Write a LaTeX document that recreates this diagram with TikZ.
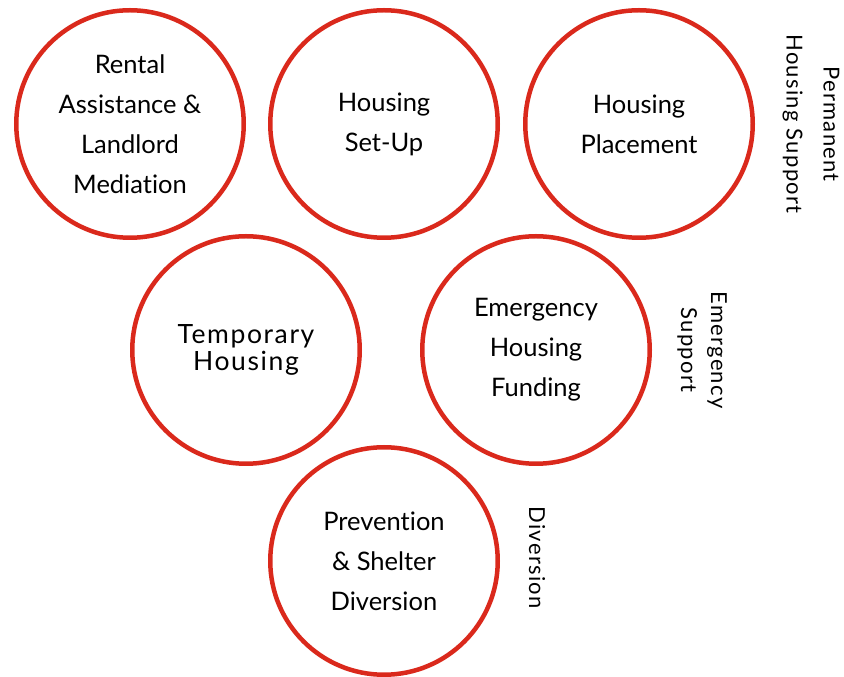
\documentclass[tikz,border=0pt]{standalone}
\usepackage{fontspec}
\setmainfont[Ligatures=NoCommon]{Lato}
\newfontfamily\widefont[LetterSpace=6,Ligatures=NoCommon]{Lato}
\usetikzlibrary{positioning}
\definecolor{ringred}{RGB}{218,41,28}

\begin{document}
\begin{tikzpicture}[x=1pt, y=1pt,
    ring/.style={circle, draw=ringred, line width=4.5pt, minimum size=227.5pt, inner sep=0pt, align=center, font=\fontsize{25.5}{40}\selectfont},
    band/.style={rotate=-90, align=center, font=\widefont\fontsize{22}{#1}\selectfont}, on grid
    ]
		\useasboundingbox (0,0) rectangle (844,677);

		\node[ring](Rent) at (130,553) {
			Rental\\Assistance \&\\Landlord\\Mediation
		};
		\node[ring, right=254pt of Rent](Setup) {
			Housing\\Set-Up
		};
		\node[ring, right=255pt of Setup](Place) {
			Housing\\Placement
		};
		\node[band=37, right=172pt of Place](Perm) {
			Permanent\\Housing Support
		};

		\node[ring, below right=226pt and 116pt of Rent, font=\widefont\fontsize{26.5}{27}\selectfont](Temp) {
			Temporary\\Housing
		};
		\node[ring, right=290pt of Temp](Fund) {
			Emergency\\Housing\\Funding
		};
		\node[band=30, right=166pt of Fund](Emerg) {
			Emergency\\Support
		};

		\node[ring, below right=211pt and 138pt of Temp](Prev) {
			Prevention\\\& Shelter\\Diversion
		};
		\node[band=30, right=153pt of Prev](Div) {
			Diversion
		};
\end{tikzpicture}
\end{document}
